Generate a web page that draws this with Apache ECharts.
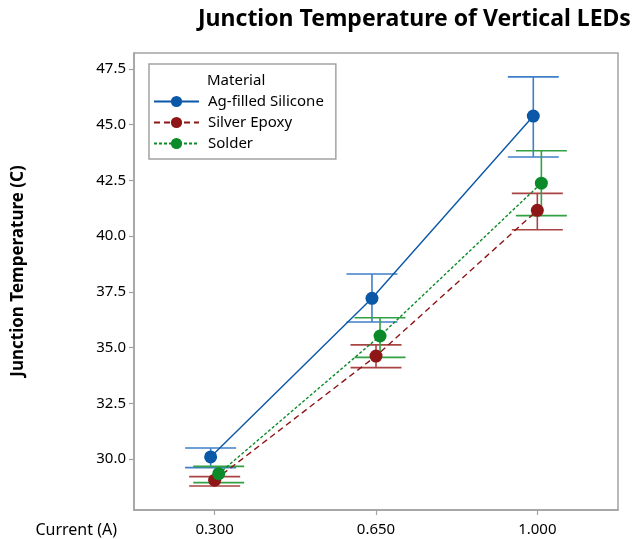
<!DOCTYPE html>
<html>
<head>
<meta charset="utf-8">
<script src="https://cdn.jsdelivr.net/npm/echarts@6/dist/echarts.min.js"></script>
<style>html,body{margin:0;padding:0;background:#fff}#c{width:639px;height:539px}</style>
</head>
<body>
<div id="c"></div>
<script>
const categories = ['0.300', '0.650', '1.000'];
const materials = ['Ag-filled Silicone', 'Silver Epoxy', 'Solder'];
const agMean = [30.09, 37.21, 45.39];
const agLow = [29.61, 36.15, 43.55];
const agHigh = [30.49, 38.30, 47.15];
const epoxyMean = [29.05, 34.62, 41.16];
const epoxyLow = [28.79, 34.10, 40.29];
const epoxyHigh = [29.21, 35.12, 41.92];
const solderMean = [29.34, 35.52, 42.38];
const solderLow = [28.94, 34.56, 40.92];
const solderHigh = [29.67, 36.34, 43.83];
const yTicks = [30, 32.5, 35, 37.5, 40, 42.5, 45, 47.5];

const FONT = 'Noto Sans';
const means = [agMean, epoxyMean, solderMean];
const lows = [agLow, epoxyLow, solderLow];
const highs = [agHigh, epoxyHigh, solderHigh];
const pointColors = ['#0b57a8', '#8e1616', '#0a8a28'];
const barColors = ['#3f7fc6', '#a94444', '#33a043'];
const lineTypes = ['solid', [6, 4], [3, 2]];
const dodge = [-0.025, 0, 0.025];
const xCenters = categories.map((c, i) => i + 0.5);

const series = [];
materials.forEach((m, s) => {
  const col = barColors[s];
  series.push({
    name: m + ' bars',
    type: 'custom',
    z: 2,
    silent: true,
    renderItem: function (params, api) {
      const x = api.value(0), lo = api.value(1), hi = api.value(2);
      const pLo = api.coord([x, lo]);
      const pHi = api.coord([x, hi]);
      const hw = 25.5;
      const st = { stroke: col, lineWidth: 1.6 };
      return {
        type: 'group',
        children: [
          { type: 'line', shape: { x1: pLo[0], y1: pLo[1], x2: pHi[0], y2: pHi[1] }, style: st },
          { type: 'line', shape: { x1: pLo[0] - hw, y1: pLo[1], x2: pLo[0] + hw, y2: pLo[1] }, style: st },
          { type: 'line', shape: { x1: pHi[0] - hw, y1: pHi[1], x2: pHi[0] + hw, y2: pHi[1] }, style: st }
        ]
      };
    },
    encode: { x: 0, y: [1, 2] },
    data: xCenters.map((xc, i) => [xc + dodge[s], lows[s][i], highs[s][i]])
  });
});
materials.forEach((m, s) => {
  series.push({
    name: m,
    type: 'line',
    z: 3,
    symbol: 'circle',
    symbolSize: 13,
    itemStyle: { color: pointColors[s] },
    lineStyle: { color: pointColors[s], width: 1.4, type: lineTypes[s] },
    data: xCenters.map((xc, i) => [xc + dodge[s], means[s][i]])
  });
});

const chart = echarts.init(document.getElementById('c'), null, { renderer: 'canvas' });
chart.setOption({
  animation: false,
  title: {
    text: 'Junction Temperature of Vertical LEDs',
    left: 193, top: 3,
    textStyle: { fontFamily: FONT, fontSize: 23, fontWeight: 'bold', color: '#000' }
  },
  grid: { left: 134, right: 21, top: 53, bottom: 29, show: true, borderColor: '#a3a3a3', borderWidth: 1.5 },
  legend: {
    data: materials,
    orient: 'vertical',
    left: 149, top: 64,
    padding: [30, 12, 8, 4],
    itemGap: 6,
    itemWidth: 45,
    itemHeight: 14,
    borderColor: '#a3a3a3',
    borderWidth: 1.5,
    textStyle: { fontFamily: FONT, fontSize: 15, color: '#000', padding: [0, 0, 0, 4] }
  },
  graphic: [
    { type: 'text', x: 207, y: 81, style: { text: 'Material', font: '15px "' + FONT + '"', fill: '#000', verticalAlign: 'middle' } },
    { type: 'text', x: 117, y: 530, style: { text: 'Current (A)', font: '16px "' + FONT + '"', fill: '#000', align: 'right', verticalAlign: 'middle' } },
    { type: 'text', x: 18, y: 271, rotation: Math.PI / 2, style: { text: 'Junction Temperature (C)', font: 'bold 17px "' + FONT + '"', fill: '#000', align: 'center', verticalAlign: 'middle' } }
  ],
  xAxis: {
    type: 'value', min: 0, max: 3,
    splitLine: { show: false },
    axisLine: { show: true, lineStyle: { color: '#a3a3a3', width: 1.5 } },
    axisTick: { show: true, length: 5, customValues: xCenters, lineStyle: { color: '#a3a3a3', width: 1.2 } },
    axisLabel: {
      customValues: xCenters, margin: 12,
      formatter: v => categories[Math.round(v - 0.5)],
      fontFamily: FONT, fontSize: 15, color: '#000'
    }
  },
  yAxis: {
    type: 'value', min: 27.71, max: 48.22,
    splitLine: { show: false },
    axisLine: { show: true, lineStyle: { color: '#a3a3a3', width: 1.5 } },
    axisTick: { show: true, length: 5, customValues: yTicks, lineStyle: { color: '#a3a3a3', width: 1.2 } },
    axisLabel: {
      customValues: yTicks, margin: 8,
      formatter: v => v.toFixed(1),
      fontFamily: FONT, fontSize: 15, color: '#000'
    }
  },
  series: series
});
</script>
</body>
</html>
